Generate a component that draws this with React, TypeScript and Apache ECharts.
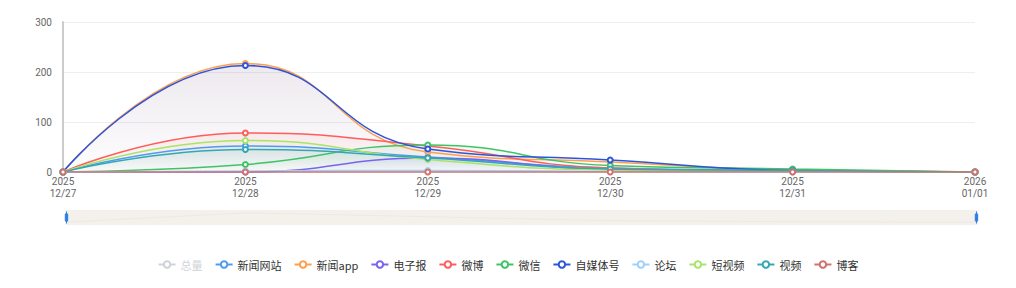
import React, { useEffect, useRef } from "react";
import * as echarts from "echarts";

const categories = ["2025\n12/27", "2025\n12/28", "2025\n12/29", "2025\n12/30", "2025\n12/31", "2026\n01/01"];
const seriesNames = ["总量", "新闻网站", "新闻app", "电子报", "微博", "微信", "自媒体号", "论坛", "短视频", "视频", "博客"];
const colors = ["#bbbbbb", "#4f9bf2", "#ff9f4d", "#7a63f0", "#ff5c5c", "#3fc465", "#2d55dc", "#9fd0fb", "#a9e46a", "#34a7b5", "#d4706c"];

const xinwenwangzhan = [0, 52, 30, 8, 3, 0];
const xinwenapp = [0, 217, 40, 20, 4, 0];
const dianzibao = [0, 0, 28, 5, 2, 0];
const weibo = [0, 78, 52, 8, 2, 0];
const weixin = [0, 15, 54, 13, 6, 0];
const zimeitihao = [0, 213, 46, 24, 3, 0];
const luntan = [0, 2, 3, 1, 0, 0];
const duanshipin = [0, 63, 25, 4, 2, 0];
const shipin = [0, 45, 28, 6, 3, 0];
const boke = [0, 0, 0, 0, 0, 0];
const parts = [xinwenwangzhan, xinwenapp, dianzibao, weibo, weixin, zimeitihao, luntan, duanshipin, shipin, boke];
const zongliang = categories.map((_, i) => parts.reduce((s, a) => s + a[i], 0));
const allData = [zongliang, ...parts];

function hexA(hex: string, a: number) {
  const n = parseInt(hex.slice(1), 16);
  return `rgba(${(n >> 16) & 255},${(n >> 8) & 255},${n & 255},${a})`;
}

export default function App() {
  const ref = useRef<HTMLDivElement>(null);
  useEffect(() => {
    const chart = echarts.init(ref.current!, undefined, { renderer: "svg" });
    const font = "'Microsoft YaHei', 'Noto Sans CJK SC', sans-serif";
    chart.setOption({
      animation: false,
      color: colors,
      textStyle: { fontFamily: font },
      grid: { left: 63, right: 41, top: 22, bottom: 116 },
      legend: {
        bottom: 13,
        left: "center",
        itemWidth: 17,
        itemHeight: 8,
        itemGap: 12,
        textStyle: { fontSize: 11, color: "#333" },
        selected: { "总量": false },
        data: seriesNames,
      },
      xAxis: {
        type: "category",
        boundaryGap: false,
        data: categories,
        axisLine: { lineStyle: { color: "#ccc" } },
        axisTick: { show: false },
        axisLabel: { color: "#666", fontSize: 10, lineHeight: 12, margin: 3, fontFamily: "Roboto, sans-serif" },
      },
      yAxis: {
        type: "value",
        min: 0,
        max: 300,
        interval: 100,
        axisLine: { show: true, lineStyle: { color: "#ccc", width: 2 } },
        axisLabel: { color: "#666", fontSize: 10, margin: 11, fontFamily: "Roboto, sans-serif" },
        splitLine: { lineStyle: { color: "#eee" } },
      },
      dataZoom: [
        {
          type: "slider",
          left: 63,
          right: 41,
          top: 210,
          height: 15,
          borderColor: "transparent",
          backgroundColor: "#f4f0eb",
          fillerColor: "rgba(244,240,235,0.6)",
          showDetail: false,
          moveHandleSize: 0,
          handleSize: "80%",
          handleStyle: { color: "#2b7de6", borderColor: "#2b7de6" },
          dataBackground: {
            lineStyle: { color: "#e2ddd8", width: 1 },
            areaStyle: { color: "rgba(0,0,0,0.0)" },
          },
          selectedDataBackground: {
            lineStyle: { color: "#e2ddd8", width: 1 },
            areaStyle: { color: "rgba(0,0,0,0.0)" },
          },
        },
      ],
      series: seriesNames.map((name, i) => ({
        name,
        type: "line",
        smooth: true,
        symbol: "emptyCircle",
        symbolSize: 5,
        showAllSymbol: true,
        lineStyle: { width: 1.5 },
        data: allData[i],
        areaStyle: {
          color: new echarts.graphic.LinearGradient(0, 0, 0, 1, [
            { offset: 0, color: hexA(colors[i], 0.12) },
            { offset: 1, color: hexA(colors[i], 0.01) },
          ]),
        },
      })),
    });
    return () => chart.dispose();
  }, []);
  return <div ref={ref} style={{ position: "absolute", left: 0, top: 0, width: 1016, height: 288 }} />;
}
